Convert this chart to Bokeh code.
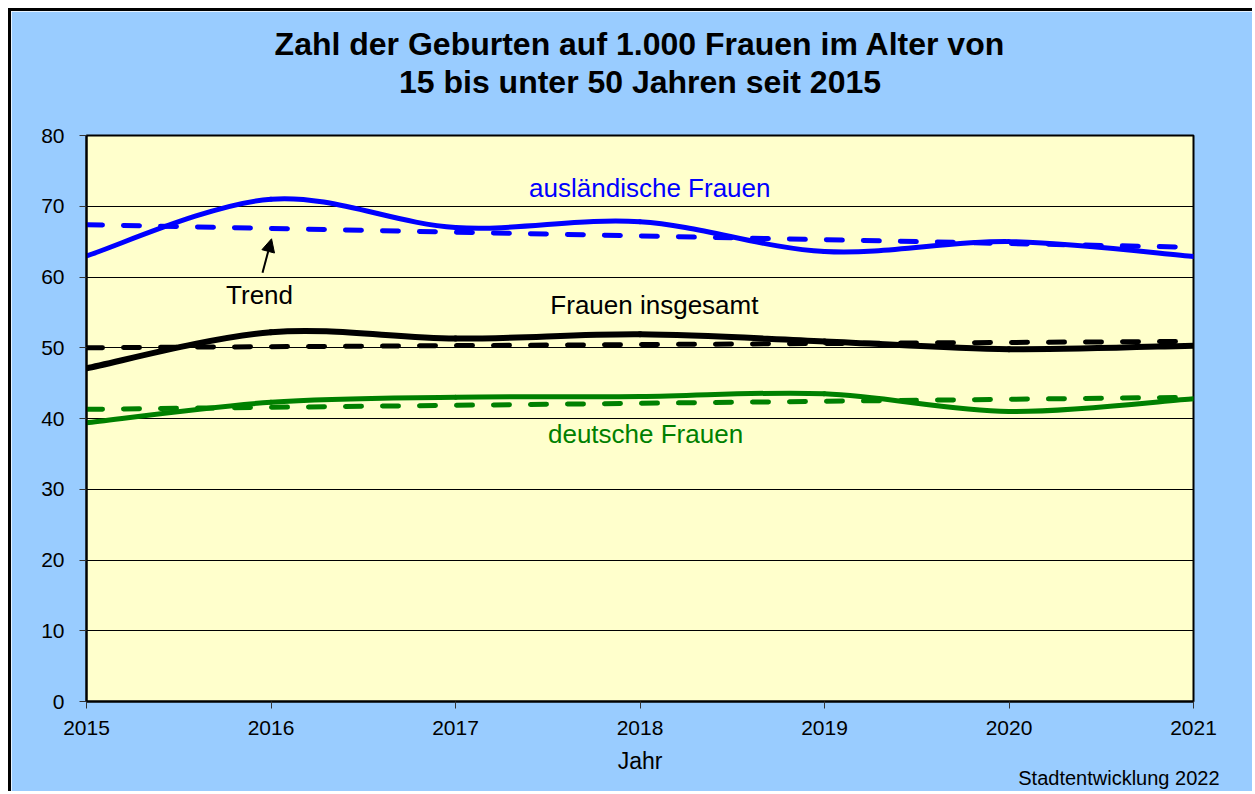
from bokeh.plotting import figure
from bokeh.models import Range1d, FixedTicker, Label, Arrow, NormalHead, Title
from bokeh.embed import file_html
from bokeh.resources import INLINE

# ---- data ----
years = [2015, 2016, 2017, 2018, 2019, 2020, 2021]
auslaendisch = [63.0, 71.0, 67.0, 67.8, 63.6, 65.0, 62.9]
insgesamt = [47.1, 52.2, 51.3, 51.9, 50.9, 49.8, 50.3]
deutsch = [39.4, 42.3, 43.0, 43.1, 43.5, 41.0, 42.8]
trend_years = [2015, 2021]
trend_auslaendisch = [67.4, 64.2]
trend_insgesamt = [50.0, 50.9]
trend_deutsch = [41.3, 43.0]
y_ticks = [0, 10, 20, 30, 40, 50, 60, 70, 80]
title_lines = ["Zahl der Geburten auf 1.000 Frauen im Alter von",
               "15 bis unter 50 Jahren seit 2015"]

FONT = "Liberation Sans"
BLUE = "#0000FF"
BLACK = "#000000"
GREEN = "#008000"

p = figure(width=1244, height=783, output_backend="svg", toolbar_location=None,
           x_range=Range1d(years[0], years[-1]), y_range=Range1d(y_ticks[0], y_ticks[-1]),
           min_border_left=75, min_border_right=62, min_border_top=124, min_border_bottom=93)
p.styles = {"border-left": "3px solid black", "border-top": "3px solid black",
            "margin-left": "8px", "margin-top": "8px"}

p.background_fill_color = "#FFFFCC"
p.border_fill_color = "#99CCFF"
p.outline_line_color = "black"
p.outline_line_width = 2

p.xaxis.ticker = FixedTicker(ticks=years)
p.yaxis.ticker = FixedTicker(ticks=y_ticks)
p.xaxis.major_label_overrides = {y: str(y) for y in years}
for ax in (p.xaxis, p.yaxis):
    ax.axis_line_color = "black"
    ax.axis_line_width = 2
    ax.major_tick_in = 0
    ax.major_tick_out = 7
    ax.major_tick_line_color = "#333333"
    ax.major_tick_line_width = 1
    ax.minor_tick_line_color = None
    ax.major_label_text_font = FONT
    ax.major_label_text_font_size = "21px"
    ax.major_label_text_color = "black"
p.yaxis.major_label_standoff = 15
p.xaxis.major_label_standoff = 12
p.xaxis.axis_label = "Jahr"
p.xaxis.axis_label_text_font = FONT
p.xaxis.axis_label_text_font_size = "23px"
p.xaxis.axis_label_text_font_style = "normal"
p.xaxis.axis_label_text_color = "black"
p.xaxis.axis_label_standoff = 10

p.xgrid.visible = False
p.ygrid.grid_line_color = "black"
p.ygrid.grid_line_width = 1


def smooth_segments(xs, ys):
    n = len(xs)
    seg = {k: [] for k in ("x0", "y0", "x1", "y1", "cx0", "cy0", "cx1", "cy1")}
    for i in range(n - 1):
        a = max(i - 1, 0)
        d = min(i + 2, n - 1)
        seg["x0"].append(xs[i]); seg["y0"].append(ys[i])
        seg["x1"].append(xs[i + 1]); seg["y1"].append(ys[i + 1])
        seg["cx0"].append(xs[i] + (xs[i + 1] - xs[a]) / 6.0)
        seg["cy0"].append(ys[i] + (ys[i + 1] - ys[a]) / 6.0)
        seg["cx1"].append(xs[i + 1] - (xs[d] - xs[i]) / 6.0)
        seg["cy1"].append(ys[i + 1] - (ys[d] - ys[i]) / 6.0)
    return seg


for series, trend, color, lw in [(auslaendisch, trend_auslaendisch, BLUE, 5),
                                 (insgesamt, trend_insgesamt, BLACK, 6),
                                 (deutsch, trend_deutsch, GREEN, 5)]:
    s = smooth_segments(years, series)
    p.bezier(x0=s["x0"], y0=s["y0"], x1=s["x1"], y1=s["y1"],
             cx0=s["cx0"], cy0=s["cy0"], cx1=s["cx1"], cy1=s["cy1"],
             line_color=color, line_width=lw, line_cap="round")
    p.line(trend_years, trend, line_color=color, line_width=5,
           line_dash="16 21", line_cap="round")

# title: empty spacer next to the frame, then the two title lines
p.add_layout(Title(text=" ", align="center", text_font=FONT,
                   text_font_size="32px", standoff=-2), "above")
p.add_layout(Title(text=title_lines[1], align="center", text_font=FONT, text_font_style="bold",
                   text_font_size="32px", text_color="black", standoff=0), "above")
p.add_layout(Title(text=title_lines[0], align="center", text_font=FONT, text_font_style="bold",
                   text_font_size="32px", text_color="black", standoff=0), "above")

# series labels
for txt, x, y, col in [("ausländische Frauen", 2018.053, 72.6, BLUE),
                       ("Frauen insgesamt", 2018.078, 56.1, BLACK),
                       ("deutsche Frauen", 2018.03, 37.8, GREEN),
                       ("Trend", 2015.938, 57.5, BLACK)]:
    p.add_layout(Label(x=x, y=y, text=txt, text_align="center", text_baseline="alphabetic",
                       text_font=FONT, text_font_size="26px", text_color=col))

p.add_layout(Arrow(x_start=2015.954, y_start=60.6, x_end=2016.003, y_end=65.4,
                   line_color="black", line_width=2,
                   end=NormalHead(size=13, fill_color="black", line_color="black")))

p.add_layout(Title(text="Stadtentwicklung 2022", align="right", offset=-26, standoff=-20,
                   vertical_align="top",
                   text_font=FONT, text_font_style="normal", text_font_size="20px",
                   text_color="black"), "below")

open("out.html", "w").write(file_html(p, INLINE))
